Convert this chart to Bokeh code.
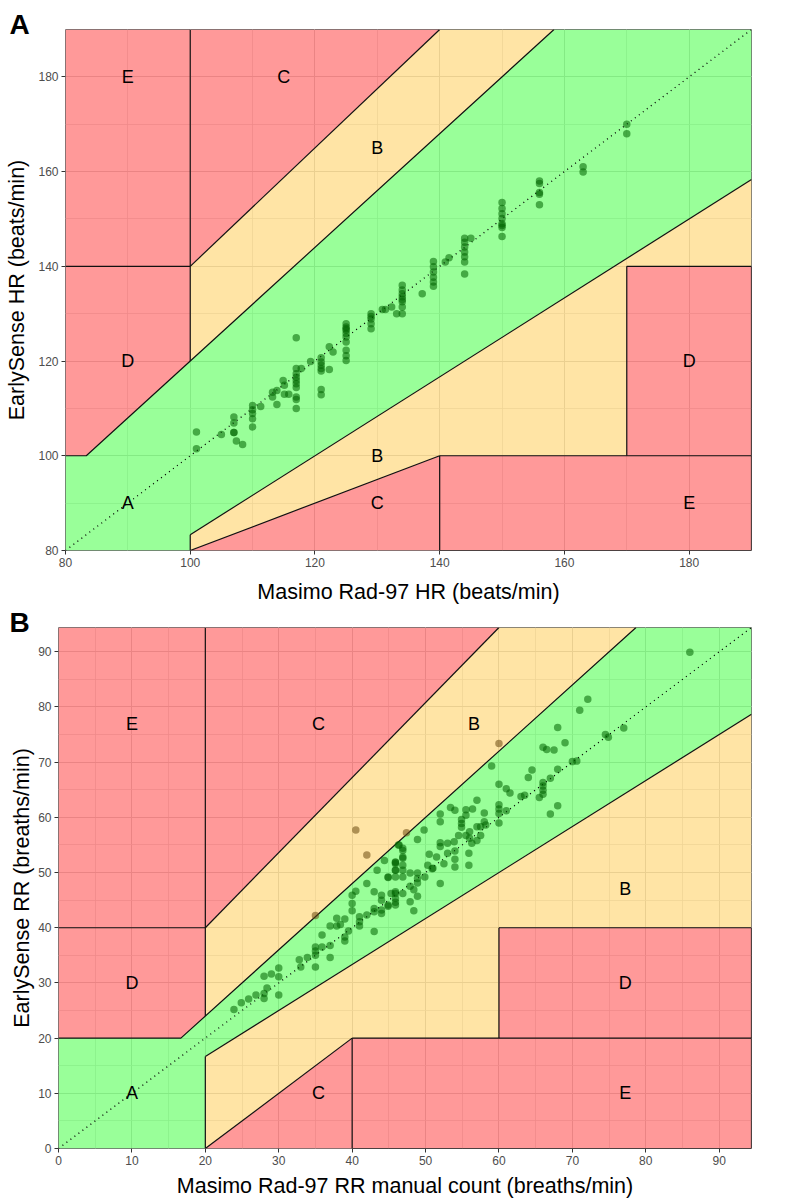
from bokeh.plotting import figure
from bokeh.models import Range1d, SingleIntervalTicker, ColumnDataSource
from bokeh.embed import file_html
from bokeh.resources import INLINE
from bokeh.core.properties import value

FONT = "Liberation Sans"

# ---------------- Panel A : heart rate ----------------
hr_limits = [80, 190]
hr_masimo = [101, 101, 105, 107, 107, 107, 107, 107.4, 108.4,
             110, 110, 110, 110, 110, 111.3,
             113.2, 113.2, 113.9, 113.9, 114.9, 115.1, 115.1, 115.8,
             117, 117, 117, 117, 117, 117, 117, 117, 117, 117, 117.8,
             119.3, 121, 121, 121, 121, 121, 121, 121, 122.3, 122.3, 122.9,
             125, 125, 125, 125, 125, 125, 125, 125, 125, 125,
             129, 129, 129, 129, 129,
             130.8, 131.3, 132.3, 133.1,
             134, 134, 134, 134, 134, 134, 134, 134,
             137.2,
             139, 139, 139, 139, 139, 139, 140.9, 141.5,
             144, 144, 144, 144, 144, 144, 144, 145,
             150, 150, 150, 150, 150, 150, 150, 150,
             156, 156, 156, 156, 156,
             163, 163, 170, 170]
hr_earlysense = [105, 101.5, 104.5, 108.2, 106.9, 104.9, 104.9, 103.1, 102.4,
                 110.6, 109.7, 108.9, 107.8, 106.1, 110.4,
                 113.4, 112.4, 113.8, 110.8, 115.9, 114.9, 113, 113,
                 124.9, 118.4, 117.3, 116.6, 115.9, 115.2, 114.4, 112.4, 111.9, 110, 118.4,
                 119.9, 120.7, 119.8, 119.1, 118.4, 117.9, 114, 112.9, 123, 118.2, 121.9,
                 127.9, 127.2, 126.5, 125.8, 125.1, 124, 122.3, 121.1, 120.1, 126.8,
                 130, 128.9, 127.9, 126.8, 129.4,
                 130.9, 130.9, 131.4, 130,
                 136, 135, 134.2, 133.6, 132.5, 131.4, 130, 133,
                 134.2,
                 141, 139.9, 138.8, 137.7, 136.7, 135.8, 140.9, 141.8,
                 145.9, 145.1, 144.1, 143, 142, 140.9, 138.4, 145.9,
                 153.5, 152.2, 151.1, 150.1, 149, 148.2, 146.3, 148.6,
                 158, 157.5, 155.2, 155.6, 153,
                 161, 159.9, 170, 168]

hr_zone_names = ["A", "B", "B", "C", "C", "D", "D", "E", "E"]
hr_zone_xs = [[80, 100, 100, 190, 190, 158.33, 83.33, 80],
              [100, 158.33, 140, 100],
              [100, 140, 170, 170, 190, 190, 100],
              [100, 140, 100],
              [100, 140, 140],
              [80, 83.33, 100, 100, 80],
              [170, 190, 190, 170],
              [80, 100, 100, 80],
              [140, 190, 190, 140]]
hr_zone_ys = [[80, 80, 83.33, 158.33, 190, 190, 100, 100],
              [120, 190, 190, 140],
              [80, 100, 100, 140, 140, 158.33, 83.33],
              [140, 190, 190],
              [80, 80, 100],
              [100, 100, 120, 140, 140],
              [100, 100, 140, 140],
              [140, 140, 190, 190],
              [80, 80, 100, 100]]
hr_line_xs = [[80, 83.33, 158.33], [100, 100], [80, 100], [100, 140], [100, 100],
              [100, 190], [100, 140], [140, 140], [140, 190], [170, 170], [170, 190],
              [190, 190], [140, 190]]
hr_line_ys = [[100, 100, 190], [120, 190], [140, 140], [140, 190], [80, 83.33],
              [83.33, 158.33], [80, 100], [80, 100], [100, 100], [100, 140], [140, 140],
              [80, 140], [80, 80]]
hr_label_text = ["E", "C", "B", "D", "A", "B", "C", "D", "E"]
hr_label_x = [90, 115, 130, 90, 90, 130, 130, 180, 180]
hr_label_y = [180, 180, 165, 120, 90, 100, 90, 120, 90]

# ---------------- Panel B : respiratory rate ----------------
rr_limits = [0, 94.4]
rr_manual = [40.5, 42, 35,
             23.9, 24.9, 25.9, 26.9, 28, 28, 28, 28.4, 29, 30, 30, 30,
             32.8, 33, 33.9, 35, 35, 35, 35, 35.9, 35.9, 37, 37, 37, 37.9, 37.9, 38.4, 39, 39, 39, 39.5,
             40, 40, 40, 40.5, 41, 41, 41, 42, 42, 43, 43, 43, 43, 43.4, 44, 44, 44, 44, 44.4, 44.9, 44.9,
             45.3, 45.9, 45.9, 45.9, 46.3, 45.9,
             60, 47.4, 59, 72.1, 71, 68, 69, 66, 66.5, 67.5, 74.5, 74.9, 70, 70.6, 68, 67, 64.5, 64,
             66, 66, 66, 66, 65.5, 63, 63.5, 60, 61, 61.5, 57, 68, 67, 60, 60, 60, 60, 61, 58, 58,
             56.4, 55.5, 55.5, 53.4, 54, 52, 52, 54.9, 54.9, 54.9, 57, 57.5, 58.2, 56, 56, 57.5, 57,
             56.3, 55.5, 54.5, 53.9, 53, 52, 52, 48.9, 49.8, 46.4, 46.9, 46.9, 45.9, 50.5, 51.5, 53,
             54, 54, 55.9, 55.9, 50.3, 51, 52.5, 54,
             86, 77,
             46.9, 46.9, 45.9, 46.9, 45.9, 46.9, 44.9, 45.9, 46.9, 47.9, 48.9, 48.9, 48.9, 47.9, 48.4,
             48.9, 48.4, 47.9, 46.9, 45.9, 45.9, 44.9, 45.9, 52, 49.9, 50.9]
rr_earlysense = [57.7, 53.2, 42.2,
                 25.2, 26.4, 27.1, 27.8, 27.2, 28.1, 31.2, 29.1, 31.6, 32.7, 31.1, 27.8,
                 34.2, 32.9, 34.6, 36.5, 35.8, 35, 32.9, 36.5, 38.7, 36.8, 34.6, 40.3, 40.3, 41.7, 40.6,
                 38.3, 37.6, 41.6, 39.4,
                 45.9, 44.4, 43.1, 46.6, 42, 41.1, 40.3, 48, 42.3, 46.5, 43.5, 42.9, 39.3, 50.4, 45.9, 45,
                 43.2, 42.6, 52.2, 43.9, 49.1,
                 46.2, 46.5, 50.4, 51.9, 55, 44.6,
                 73.4, 57.2, 69.3, 81.4, 79.4, 76.3, 73.5, 72.7, 72.3, 72.2, 75, 74.5, 70.1, 70.2, 68.7,
                 67.1, 68.6, 67.2,
                 66.3, 65.7, 64.9, 64.2, 63.6, 63.8, 64, 66, 65.2, 64.4, 63.1, 62.1, 60.6, 62.3, 61.5,
                 60.7, 59, 61.2, 60.8, 59.2,
                 61.5, 61.4, 60.4, 61.8, 61.3, 60.6, 59.2, 59.6, 58.9, 58.2, 58.3, 58.3, 58.6, 57.4, 56.2,
                 56.7, 55.8,
                 55.3, 56.7, 56.7, 55.6, 55.3, 55.4, 54.7, 56, 57.7, 55, 54, 52.6, 51.8, 53.3, 52.8, 53.5,
                 53.9, 52.4, 53.5, 51.3, 51.3, 50.8, 51.6, 51,
                 89.9, 76.2,
                 54.4, 52.8, 51.6, 51.3, 50.4, 50.4, 49.2, 49.2, 49.2, 49.9, 49.9, 48.9, 48.1, 47.5, 46.9,
                 45.7, 43.1, 44.7, 46.2, 46.2, 45.3, 44.1, 44.1, 48, 49.2, 50.7]

rr_zone_names = ["A", "B", "B", "C", "C", "D", "D", "E", "E"]
rr_zone_xs = [[0, 20, 20, 94.4, 94.4, 78.67, 16.67, 0],
              [20, 78.67, 60, 20],
              [20, 40, 60, 60, 94.4, 94.4, 20],
              [20, 60, 20],
              [20, 40, 40],
              [0, 16.67, 20, 20, 0],
              [60, 94.4, 94.4, 60],
              [0, 20, 20, 0],
              [40, 94.4, 94.4, 40]]
rr_zone_ys = [[0, 0, 16.67, 78.67, 94.4, 94.4, 20, 20],
              [24, 94.4, 94.4, 40],
              [0, 20, 20, 40, 40, 78.67, 16.67],
              [40, 94.4, 94.4],
              [0, 0, 20],
              [20, 20, 24, 40, 40],
              [20, 20, 40, 40],
              [40, 40, 94.4, 94.4],
              [0, 0, 20, 20]]
rr_line_xs = [[0, 16.67, 78.67], [20, 20], [0, 20], [20, 60], [20, 20],
              [20, 94.4], [20, 40], [40, 40], [40, 94.4], [60, 60], [60, 94.4],
              [94.4, 94.4], [40, 94.4]]
rr_line_ys = [[20, 20, 94.4], [24, 94.4], [40, 40], [40, 94.4], [0, 16.67],
              [16.67, 78.67], [0, 20], [0, 20], [20, 20], [20, 40], [40, 40],
              [0, 40], [0, 0]]
rr_label_text = ["E", "C", "B", "D", "A", "B", "C", "D", "E"]
rr_label_x = [10, 35.4, 56.6, 10, 10, 77.2, 35.4, 77.2, 77.2]
rr_label_y = [77, 77, 77, 30, 10, 47, 10, 30, 10]

ZONE_FILL = {"A": "#00FF00", "B": "#FFBB1E", "C": "#FF0000", "D": "#FF0000", "E": "#FF0000"}


def panel(letter, lims, interval, a_corner, xs, ys, zxs, zys, znames, lxs, lys,
          ltext, lx, ly, xlabel, ylabel, height, border_top, border_bottom, border_left,
          title_offset, xlabel_standoff, ylabel_standoff):
    lo, hi = lims
    p = figure(width=771, height=height, output_backend="svg", toolbar_location=None,
               x_range=Range1d(lo, hi), y_range=Range1d(lo, hi),
               min_border_left=border_left, min_border_right=20,
               min_border_top=border_top, min_border_bottom=border_bottom,
               background_fill_color="white", border_fill_color="white")
    p.outline_line_color = "#7F7F7F"
    p.outline_line_width = 1

    # panel letter as the plot title, pulled left of the frame
    p.title.text = letter
    p.title.align = "left"
    p.title.offset = title_offset
    p.title.text_font = FONT
    p.title.text_font_size = "28px"
    p.title.text_font_style = "bold"
    p.title.text_color = "black"
    p.title.vertical_align = "bottom"
    p.title.standoff = -20

    for ax, lab in ((p.xaxis[0], xlabel), (p.yaxis[0], ylabel)):
        ax.ticker = SingleIntervalTicker(interval=interval, num_minor_ticks=2)
        ax.axis_label = lab
        ax.axis_label_text_font = FONT
        ax.axis_label_text_font_size = "21.5px"
        ax.axis_label_text_font_style = "normal"
        ax.axis_label_text_color = "black"
        ax.major_label_text_font = FONT
        ax.major_label_text_font_size = "12px"
        ax.major_label_text_color = "#4D4D4D"
        ax.major_label_standoff = 3
        ax.axis_line_color = None
        ax.major_tick_line_color = "#333333"
        ax.major_tick_out = 4
        ax.major_tick_in = 0
        ax.minor_tick_line_color = None
    p.xaxis[0].axis_label_standoff = xlabel_standoff
    p.yaxis[0].axis_label_standoff = ylabel_standoff
    for g in (p.xgrid[0], p.ygrid[0]):
        g.ticker = SingleIntervalTicker(interval=interval, num_minor_ticks=2)
        g.grid_line_color = "#DCDCDC"
        g.grid_line_width = 1
        g.minor_grid_line_color = "#E6E6E6"
        g.minor_grid_line_width = 0.8

    fills = [ZONE_FILL[z] for z in znames]
    p.patches(xs=zxs, ys=zys, fill_color=fills, fill_alpha=0.4, line_color=None)
    p.line(x=[lo, hi], y=[lo, hi], line_color="black", line_dash="1 4", line_width=1.3)
    p.multi_line(xs=lxs, ys=lys, line_color="#111111", line_width=1.2)

    # points inside zone A drawn green, points outside drawn brown
    cols = []
    for x, y in zip(xs, ys):
        up = max(1.2 * x, a_corner)
        low = x / 1.2 if x >= a_corner else lo
        cols.append("#006400" if low <= y <= up else "#6B4A10")
    src = ColumnDataSource(dict(x=xs, y=ys, c=cols))
    p.scatter("x", "y", source=src, size=7.5, fill_color="c", line_color=None, fill_alpha=0.55)

    src_l = ColumnDataSource(dict(x=lx, y=ly, t=ltext))
    p.text("x", "y", text="t", source=src_l, text_font=value(FONT), text_font_size="18px",
           text_align="center", text_baseline="middle", text_color="black")
    return p


pA = panel("A", hr_limits, 20, 100, hr_masimo, hr_earlysense, hr_zone_xs, hr_zone_ys, hr_zone_names,
           hr_line_xs, hr_line_ys, hr_label_text, hr_label_x, hr_label_y,
           "Masimo Rad-97 HR (beats/min)", "EarlySense HR (beats/min)",
           height=606, border_top=29, border_bottom=56, border_left=65,
           title_offset=-56, xlabel_standoff=10, ylabel_standoff=6)
pB = panel("B", rr_limits, 10, 20, rr_manual, rr_earlysense, rr_zone_xs, rr_zone_ys, rr_zone_names,
           rr_line_xs, rr_line_ys, rr_label_text, rr_label_x, rr_label_y,
           "Masimo Rad-97 RR manual count (breaths/min)", "EarlySense RR (breaths/min)",
           height=594, border_top=21, border_bottom=52, border_left=58,
           title_offset=-49, xlabel_standoff=6, ylabel_standoff=1)

# two independent roots stacked on the page (frames are not forced to align)
open("out.html", "w").write(file_html([pA, pB], INLINE))
